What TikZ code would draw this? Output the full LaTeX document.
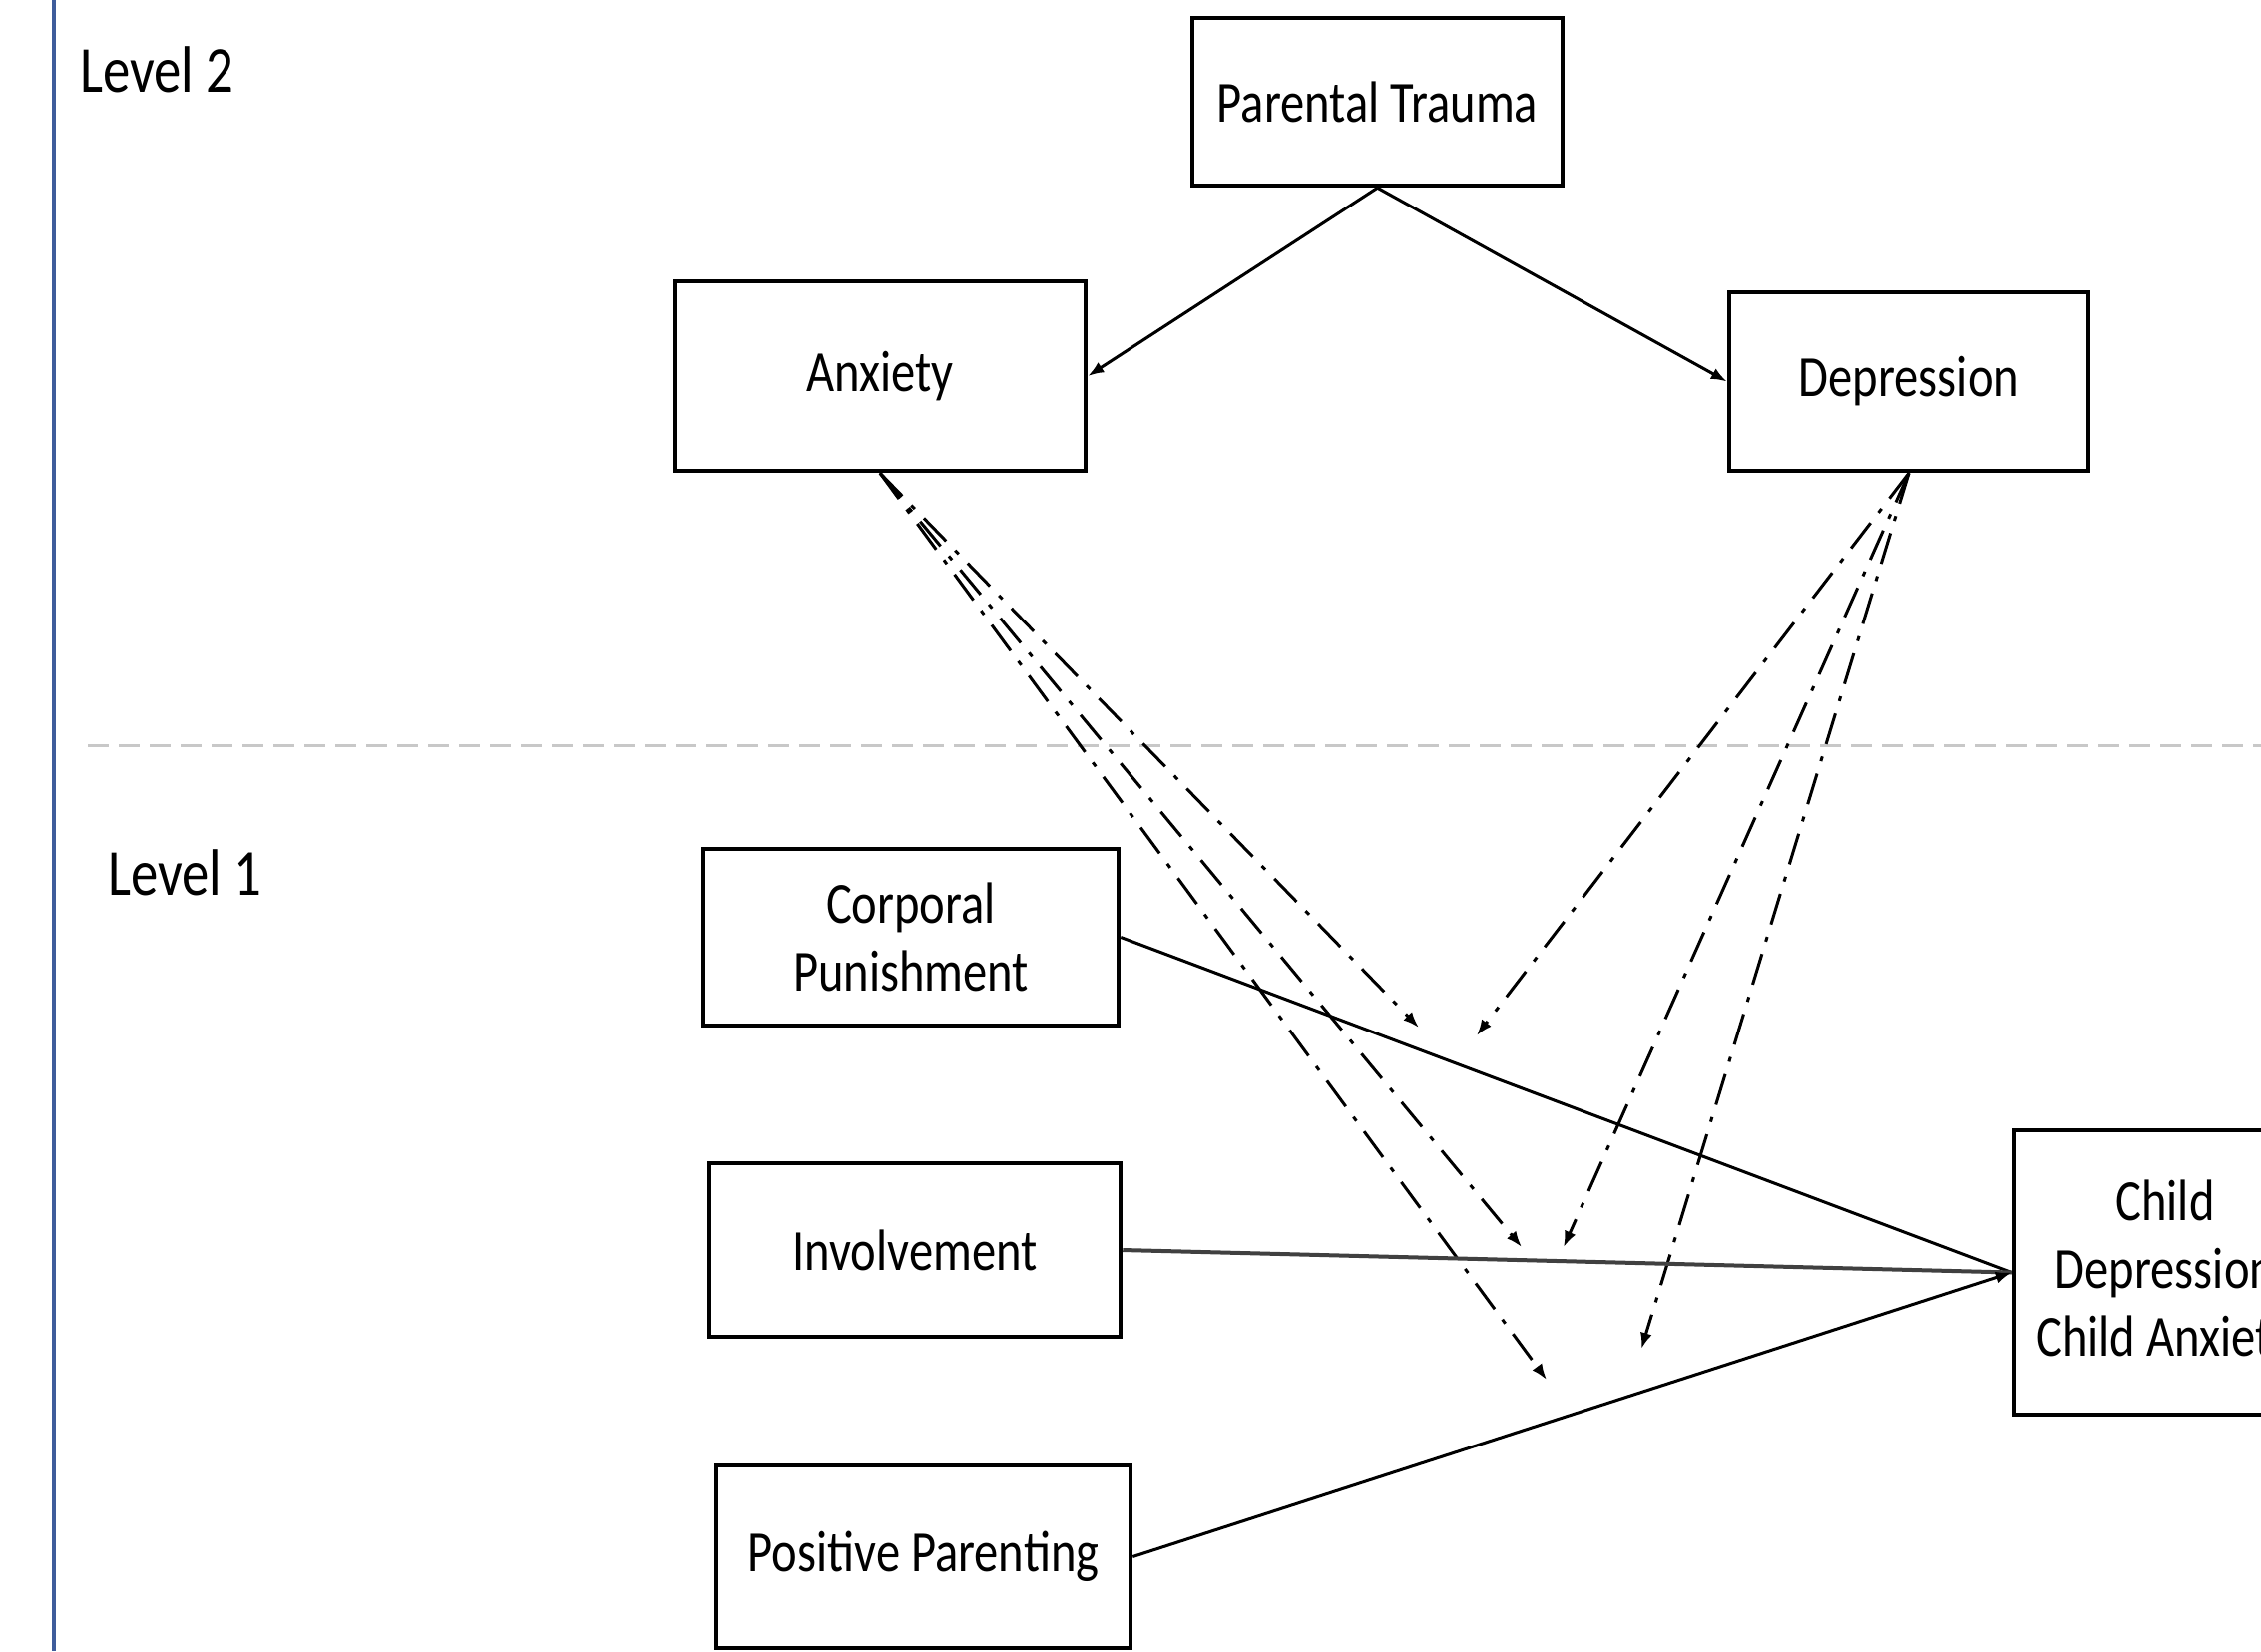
\documentclass[tikz,border=0pt]{standalone}
\usepackage{fontspec}
\setmainfont{Carlito}[FakeStretch=0.83]
\usetikzlibrary{arrows.meta}
\definecolor{sepblue}{RGB}{62,92,155}
\definecolor{sepgray}{RGB}{200,200,200}
\begin{document}
\begin{tikzpicture}[x=1pt,y=-1pt,
  box/.style={draw=black,line width=4.5pt,rectangle,inner sep=0pt,align=center,
    font=\fontsize{58.5}{68}\selectfont},
  lvl/.style={anchor=base west,inner sep=0pt,font=\fontsize{66}{70}\selectfont},
  solidarrow/.style={line width=3pt,-{Latex[length=16pt,width=12pt]}},
  dasharrow/.style={line width=3pt,dash pattern=on 32pt off 13pt on 5pt off 13pt,
    -{Latex[length=16pt,width=12pt]}}]
\useasboundingbox (0,0) rectangle (2266,1655);
\clip (0,0) rectangle (2266,1655);
\fill[white] (0,0) rectangle (2266,1655);
% frame lines
\draw[sepblue,line width=3.5pt] (54,0) -- (54,1655);
\draw[sepgray,line width=3pt,dash pattern=on 21pt off 10pt] (88,747) -- (2266,747);
% level labels
\node[lvl] (l2) at (80,92) {Level 2};
\node[lvl] (l1) at (108,897) {Level 1};
% boxes
\node[box,minimum width=371pt,minimum height=168pt] (pt) at (1380.5,102) {Parental Trauma};
\node[box,minimum width=412pt,minimum height=190pt] (anx) at (882,377) {Anxiety};
\node[box,minimum width=360pt,minimum height=179pt] (dep) at (1913,382.5) {Depression};
\node[box,minimum width=416pt,minimum height=177pt] (cp) at (913,939.5) {Corporal\\Punishment};
\node[box,minimum width=412pt,minimum height=174pt] (inv) at (917,1253) {Involvement};
\node[box,minimum width=415pt,minimum height=183pt] (pp) at (925.5,1560.5) {Positive Parenting};
\node[box,minimum width=304pt,minimum height=285pt] (child) at (2170,1275.5) {Child\\Depression\\Child Anxiety};
% free ends
\coordinate (a1) at (1422,1030);
\coordinate (a2) at (1525,1250);
\coordinate (a3) at (1550,1383);
\coordinate (d1) at (1480,1038);
\coordinate (d2) at (1567,1250);
\coordinate (d3) at (1645,1352);
% level 2 paths
\draw[solidarrow] (pt.south) -- (anx.east);
\draw[solidarrow] (pt.south) -- (dep.west);
% cross-level moderation
\draw[dasharrow] (anx.south) -- (a1);
\draw[dasharrow] (anx.south) -- (a2);
\draw[dasharrow] (anx.south) -- (a3);
\draw[dasharrow] (dep.south) -- (d1);
\draw[dasharrow] (dep.south) -- (d2);
\draw[dasharrow] (dep.south) -- (d3);
% level 1 paths
\draw[line width=3pt] (cp.east) -- (child.west);
\draw[line width=4pt,black!75] (inv.east) -- (child.west);
\draw[solidarrow] (pp.east) -- (child.west);
\end{tikzpicture}
\end{document}
